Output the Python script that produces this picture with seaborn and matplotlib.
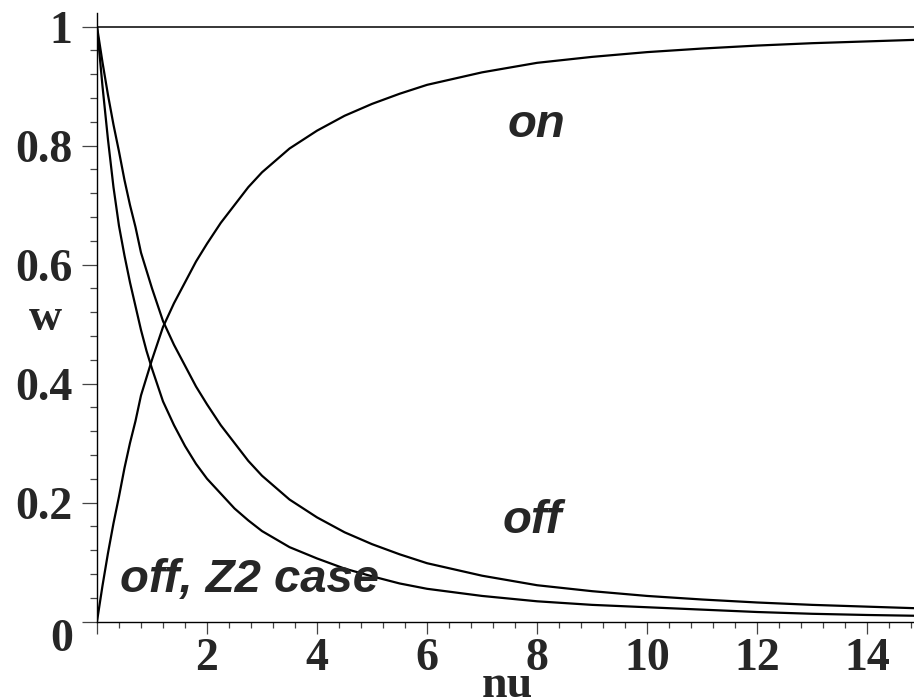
import numpy as np
import pandas as pd
import matplotlib
matplotlib.use("Agg")
import matplotlib.pyplot as plt
from matplotlib.ticker import MultipleLocator
import seaborn as sns

# values
nu = [0, 0.1, 0.2, 0.3, 0.4, 0.5, 0.6, 0.7, 0.8, 0.9, 1.0, 1.2, 1.4, 1.6, 1.8,
      2.0, 2.25, 2.5, 2.75, 3.0, 3.5, 4.0, 4.5, 5.0, 5.5, 6.0, 7, 8, 9, 10,
      11, 12, 13, 14, 15]
w_on = [0.0, 0.06, 0.115, 0.165, 0.21, 0.258, 0.30, 0.337, 0.38, 0.41, 0.44,
        0.495, 0.535, 0.57, 0.605, 0.635, 0.67, 0.70, 0.73, 0.755, 0.795, 0.825,
        0.85, 0.87, 0.887, 0.902, 0.923, 0.939, 0.949, 0.957, 0.963, 0.968,
        0.972, 0.975, 0.978]
w_off = [1.0, 0.94, 0.885, 0.835, 0.79, 0.742, 0.70, 0.663, 0.62, 0.59, 0.56,
         0.505, 0.465, 0.43, 0.395, 0.365, 0.33, 0.30, 0.27, 0.245, 0.205, 0.175,
         0.15, 0.13, 0.113, 0.098, 0.077, 0.061, 0.051, 0.043, 0.037, 0.032,
         0.028, 0.025, 0.022]
w_off_z2 = [1.0, 0.90, 0.81, 0.73, 0.665, 0.615, 0.57, 0.53, 0.49, 0.455, 0.425,
            0.37, 0.33, 0.295, 0.265, 0.24, 0.215, 0.19, 0.17, 0.152, 0.125, 0.106,
            0.089, 0.076, 0.064, 0.055, 0.043, 0.034, 0.028, 0.024, 0.020, 0.016,
            0.013, 0.011, 0.0095]

xticks = [0, 2, 4, 6, 8, 10, 12, 14]
xticklabels = ["", "2", "4", "6", "8", "10", "12", "14"]
yticks = [0, 0.2, 0.4, 0.6, 0.8, 1.0]
yticklabels = ["", "0.2", "0.4", "0.6", "0.8", "1"]

df = pd.DataFrame({"nu": nu, "on": w_on, "off": w_off, "offz2": w_off_z2})

sns.set_style("white")
fig = plt.figure(figsize=(9.14, 7), dpi=100)
ax = fig.add_axes([0.1061, 0.1121, 0.8939, 0.8693])

for col in ["on", "off", "offz2"]:
    sns.lineplot(x="nu", y=col, data=df, color="black", linewidth=1.6, ax=ax)

ax.axhline(1.0, color="black", linewidth=1.1)

ax.set_xlim(0, 14.85)
ax.set_ylim(0, 1.0227)

for s in ["top", "right"]:
    ax.spines[s].set_visible(False)
for s in ["left", "bottom"]:
    ax.spines[s].set_color("black")
    ax.spines[s].set_linewidth(1.0)

serif = {"family": "Liberation Serif", "weight": "bold", "size": 33}
sans = {"family": "Liberation Sans", "weight": "bold", "style": "italic", "size": 34}

ax.set_xticks(xticks)
ax.set_xticklabels(xticklabels, fontdict=serif)
ax.set_yticks(yticks)
ax.set_yticklabels(yticklabels, fontdict=serif)
ax.xaxis.set_minor_locator(MultipleLocator(0.4))
ax.yaxis.set_minor_locator(MultipleLocator(0.04))
ax.tick_params(which="both", bottom=True, left=True, top=False, right=False)
ax.tick_params(axis="x", which="major", direction="out", length=8.6, width=0.9, pad=3, color="#444444")
ax.tick_params(axis="x", which="minor", direction="out", length=4.3, width=0.9, color="#444444")
ax.tick_params(axis="y", which="major", direction="out", length=10.8, width=0.9, pad=7, color="#444444")
ax.tick_params(axis="y", which="minor", direction="out", length=5, width=0.9, color="#444444")

ax.text(-0.636, -0.031, "0", fontdict=serif, ha="center", va="center", clip_on=False)

ax.set_xlabel("nu", fontdict=serif, va="baseline")
ax.xaxis.set_label_coords(0.502, -0.1245)
ax.set_ylabel("w", fontdict=serif, rotation=0, ha="center", va="center")
ax.yaxis.set_label_coords(-0.0636, 0.497)

ax.text(7.47, 0.814, "on", fontdict=sans, ha="left", va="baseline")
ax.text(7.38, 0.149, "off", fontdict=sans, ha="left", va="baseline")
ax.text(0.418, 0.0496, "off, Z2 case", fontdict=sans, ha="left", va="baseline")

fig.savefig("out.png", dpi=100)
